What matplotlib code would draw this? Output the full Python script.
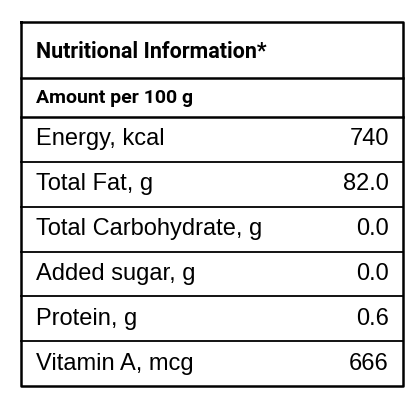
import matplotlib
matplotlib.use("Agg")
import matplotlib.pyplot as plt

title = "Nutritional Information*"
subtitle = "Amount per 100 g"
nutrients = ["Energy, kcal", "Total Fat, g", "Total Carbohydrate, g", "Added sugar, g", "Protein, g", "Vitamin A, mcg"]
values = ["740", "82.0", "0.0", "0.0", "0.6", "666"]

fig = plt.figure(figsize=(4.2, 4.2), dpi=100)
ax = fig.add_axes([0, 0, 1, 1])
ax.set_xlim(0, 420)
ax.set_ylim(420, 0)
ax.axis("off")

L, R, T, B = 21, 403, 22, 386
ax.plot([L, R, R, L, L], [T, T, B, B, T], color="black", lw=1.8)
ax.text(36, 52, title, fontsize=15.5, fontweight="bold", family="Roboto", va="center")
ax.plot([L, R], [78, 78], color="black", lw=1.8)
ax.text(36, 98, subtitle, fontsize=14, fontweight="bold", family="Roboto", va="center")
ax.plot([L, R], [117, 117], color="black", lw=1.8)

row_h = (B - 117) / len(nutrients)
for i, (n, v) in enumerate(zip(nutrients, values)):
    yc = 117 + row_h * (i + 0.5)
    ax.text(36, yc, n, fontsize=17, family="Liberation Sans", va="center")
    ax.text(389, yc, v, fontsize=17, family="Liberation Sans", va="center", ha="right")
    if i < len(nutrients) - 1:
        ax.plot([L, R], [117 + row_h * (i + 1)] * 2, color="black", lw=1.3)

fig.savefig("out.png", dpi=100, facecolor="white")
